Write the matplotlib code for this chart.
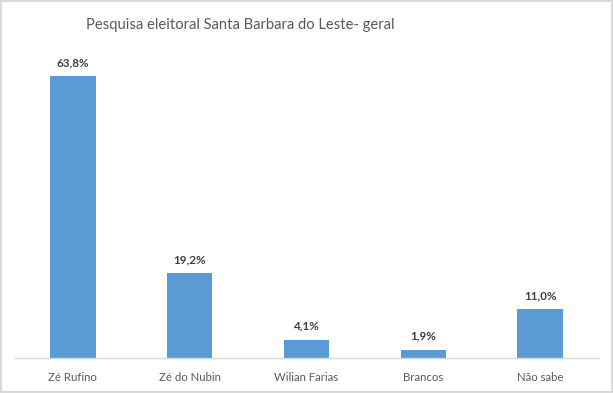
import matplotlib
matplotlib.use("Agg")
import matplotlib.pyplot as plt
from matplotlib.patches import Rectangle

categories = ["Zé Rufino", "Zé do Nubin", "Wilian Farias", "Brancos", "Não sabe"]
values = [63.8, 19.2, 4.1, 1.9, 11.0]
labels = ["63,8%", "19,2%", "4,1%", "1,9%", "11,0%"]
title = "Pesquisa eleitoral Santa Barbara do Leste- geral"

fam = ["Lato", "DejaVu Sans"]

fig = plt.figure(figsize=(6.13, 3.93), dpi=100)
ax = fig.add_axes([14.5/613, 35/393, 584/613, 309/393])
x = range(len(categories))
ax.bar(x, values, width=0.39, color="#5B9BD5", zorder=2)
ax.set_xlim(-0.5, 4.5)
ax.set_ylim(0, 70)
for xi, v, lab in zip(x, values, labels):
    ax.text(xi, v + 1.9, lab, ha="center", va="bottom", fontsize=8.4,
            fontweight="bold", color="#404040", family=fam)
ax.set_xticks(list(x))
ax.set_xticklabels(categories, fontsize=8.2, color="#595959", family=fam)
ax.tick_params(axis="x", length=0, pad=10)
ax.set_yticks([])
for s in ["top", "right", "left"]:
    ax.spines[s].set_visible(False)
ax.spines["bottom"].set_color("#D9D9D9")
ax.spines["bottom"].set_linewidth(1)

fig.text(240/613, 1 - 25/393, title, ha="center", va="center", fontsize=10.6,
         color="#595959", family=fam)
fig.patches.append(Rectangle((0.0015, 0.0025), 0.997, 0.995, transform=fig.transFigure,
                             fill=False, edgecolor="#D9D9D9", linewidth=1.5))
fig.savefig("out.png", dpi=100)
